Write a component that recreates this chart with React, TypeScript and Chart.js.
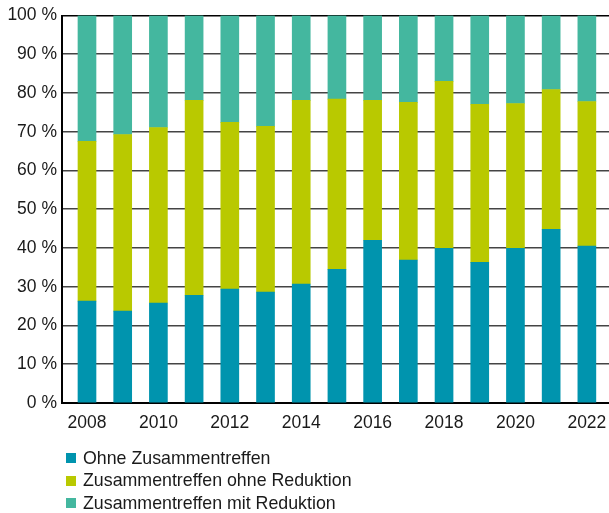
import React, { useEffect, useRef } from "react";
import { Chart, registerables } from "chart.js";

Chart.register(...registerables);

const years = [2008, 2009, 2010, 2011, 2012, 2013, 2014, 2015, 2016, 2017, 2018, 2019, 2020, 2021, 2022];
const tickYears = [2008, 2010, 2012, 2014, 2016, 2018, 2020, 2022];
const ohneZusammentreffen = [26.3, 23.7, 25.8, 27.8, 29.4, 28.6, 30.7, 34.5, 42.0, 36.9, 39.9, 36.3, 39.9, 44.8, 40.5];
const ohneReduktion = [41.2, 45.6, 45.3, 50.3, 43.0, 42.8, 47.4, 43.9, 36.1, 40.7, 43.1, 40.8, 37.4, 36.1, 37.3];
const mitReduktion = [32.5, 30.7, 28.9, 21.9, 27.6, 28.6, 21.9, 21.6, 21.9, 22.4, 17.0, 22.9, 22.7, 19.1, 22.2];
const seriesNames = ["Ohne Zusammentreffen", "Zusammentreffen ohne Reduktion", "Zusammentreffen mit Reduktion"];
const seriesColors = ["#0094AE", "#B9C900", "#44B79F"];

const FONT = "'Liberation Sans', Arial, Helvetica, sans-serif";

export default function App() {
  const ref = useRef<HTMLCanvasElement | null>(null);

  useEffect(() => {
    document.body.style.margin = "0";
    const ctx = ref.current;
    if (!ctx) return;
    const allSeries = [ohneZusammentreffen, ohneReduktion, mitReduktion];
    const chart = new Chart(ctx, {
      type: "bar",
      data: {
        datasets: allSeries.map((vals, si) => ({
          label: seriesNames[si],
          data: years.map((yr, i) => ({ x: yr, y: vals[i] })),
          backgroundColor: seriesColors[si],
          borderWidth: 0,
          barThickness: 18,
        })),
      },
      options: {
        animation: false,
        responsive: false,
        maintainAspectRatio: false,
        layout: { padding: { top: 15, right: 0, bottom: 80, left: 0 } },
        plugins: { legend: { display: false }, tooltip: { enabled: false } },
        scales: {
          x: {
            type: "linear",
            stacked: true,
            offset: false,
            min: 2007.3,
            max: 2022.62,
            afterBuildTicks: (scale: any) => {
              scale.ticks = tickYears.map((v) => ({ value: v }));
            },
            afterFit: (scale: any) => {
              scale.height = 30;
              scale.paddingLeft = 0;
              scale.paddingRight = 0;
            },
            grid: { display: false, drawTicks: false },
            border: { display: true, color: "#000", width: 2 },
            ticks: {
              color: "#1a1a1a",
              font: { family: FONT, size: 17.5 },
              padding: 10,
              maxRotation: 0,
              autoSkip: false,
              callback: (v: any) => String(v),
            },
          },
          y: {
            stacked: true,
            min: 0,
            max: 100,
            afterFit: (scale: any) => {
              scale.width = 62;
            },
            grid: {
              drawTicks: false,
              color: (c: any) => (c.tick && c.tick.value === 100 ? "#000" : "#444"),
              lineWidth: 1.6,
            },
            border: { display: true, color: "#000", width: 2 },
            ticks: {
              stepSize: 10,
              color: "#1a1a1a",
              font: { family: FONT, size: 17.5 },
              padding: 5,
              callback: (v: any) => v + " %",
            },
          },
        },
      },
    });
    return () => chart.destroy();
  }, []);

  return (
    <div style={{ position: "relative", width: 609, height: 513, overflow: "hidden", background: "#fff" }}>
      <canvas ref={ref} width={609} height={513} style={{ display: "block", width: 609, height: 513 }} />
      <div style={{ position: "absolute", left: 66, top: 447, fontFamily: FONT, fontSize: 17.8, color: "#1a1a1a" }}>
        {seriesNames.map((n, i) => (
          <div key={n} style={{ display: "flex", alignItems: "center", height: 22.5 }}>
            <span style={{ display: "inline-block", width: 10, height: 10, background: seriesColors[i], marginRight: 7 }} />
            <span>{n}</span>
          </div>
        ))}
      </div>
    </div>
  );
}
